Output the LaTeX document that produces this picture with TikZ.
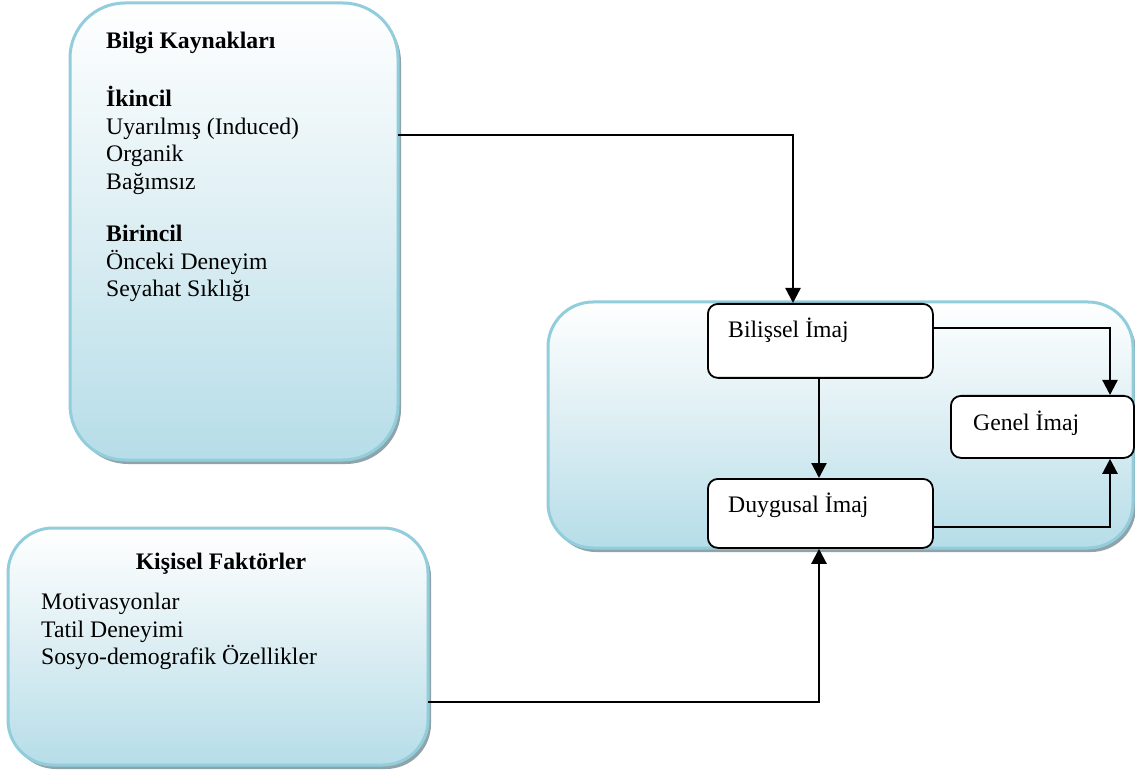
\documentclass[tikz,border=0pt]{standalone}
\usepackage{fontspec}
\setmainfont{Liberation Serif}
\usetikzlibrary{arrows.meta}
\tikzset{
  bigbox/.style={draw=bluebd, line width=3pt, rounded corners=#1, top color=white, bottom color=bluebot, middle color=bluemid, inner sep=0pt},
  shadowbox/.style={fill=shadowc, rounded corners=#1, draw=none},
  smallbox/.style={draw=black, line width=1.8pt, fill=white, rounded corners=10pt, inner sep=0pt},
  txt/.style={font=\fontsize{23.7}{27.6}\selectfont, align=left, inner sep=0pt, anchor=west},
  arr/.style={line width=2.3pt, -{Triangle[length=15pt,width=15pt]}},
  ln/.style={line width=2.3pt}
}
\definecolor{bluebd}{HTML}{92CDDC}
\definecolor{bluebot}{HTML}{B6DDE8}
\definecolor{bluemid}{HTML}{DCEEF3}
\definecolor{shadowc}{HTML}{8FA3AA}
\begin{document}
\begin{tikzpicture}[x=1pt,y=-1pt]
\useasboundingbox (0,0) rectangle (1135,775);
% shadows
\fill[shadowbox=55pt] (73,7) rectangle (401,464);
\fill[shadowbox=45pt] (551,306) rectangle (1136,552);
\fill[shadowbox=45pt] (11,532) rectangle (431,769);
% big boxes
\path[bigbox=55pt] (70,3) rectangle (398,460);
\node[minimum width=328pt, minimum height=457pt, anchor=north west, inner sep=0pt] (bilgi) at (70,3) {};
\path[bigbox=45pt] (548,302) rectangle (1133,548);
\node[minimum width=585pt, minimum height=246pt, anchor=north west, inner sep=0pt] (imaj) at (548,302) {};
\path[bigbox=45pt] (8,528) rectangle (428,765);
\node[minimum width=420pt, minimum height=237pt, anchor=north west, inner sep=0pt] (kisisel) at (8,528) {};
% texts in Bilgi
\node[txt] (t1) at (106,43) {\textbf{Bilgi Kaynakları}};
\node[txt, anchor=north west] (t2) at (106,86) {\textbf{İkincil}\\Uyarılmış (Induced)\\Organik\\Bağımsız};
\node[txt, anchor=north west] (t3) at (106,225) {\textbf{Birincil}\\Önceki Deneyim\\Seyahat Sıklığı};
% texts in Kisisel
\node[txt, anchor=center] (k1) at (221,564) {\textbf{Kişisel Faktörler}};
\node[txt, anchor=north west] (k2) at (41,593) {Motivasyonlar\\Tatil Deneyimi\\Sosyo-demografik Özellikler};
% inner boxes
\node[smallbox, minimum width=225pt, minimum height=74pt, anchor=north west] (bilissel) at (707,303) {};
\node[txt] (bt) at (728,330) {Bilişsel İmaj};
\node[smallbox, minimum width=183pt, minimum height=62pt, anchor=north west] (genel) at (950,395) {};
\node[txt] (gt) at (973,423) {Genel İmaj};
\node[smallbox, minimum width=225pt, minimum height=69pt, anchor=north west] (duygusal) at (707,478) {};
\node[txt] (dt) at (728,505) {Duygusal İmaj};
% connectors
\draw[arr] (bilgi.east |- 0,135) -| (bilissel.north -| 793,0);
\draw[arr] (bilissel.south -| 819,0) -- (duygusal.north -| 819,0);
\draw[arr] (bilissel.east |- 0,328) -| (genel.north -| 1110,0);
\draw[arr] (duygusal.east |- 0,527) -| (genel.south -| 1110,0);
\draw[arr] (kisisel.east |- 0,702) -| (duygusal.south -| 819,0);
\end{tikzpicture}
\end{document}
